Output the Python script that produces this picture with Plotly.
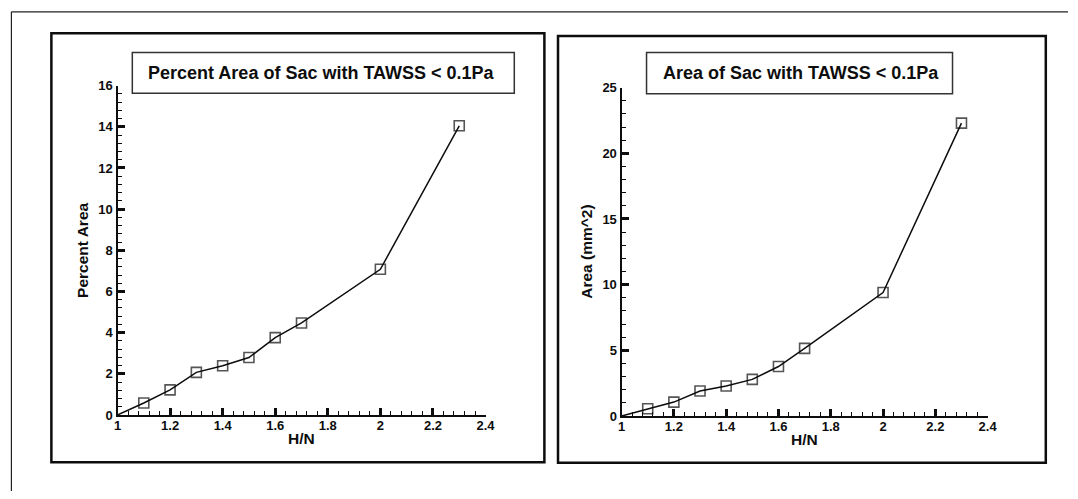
import plotly.graph_objects as go

W, H = 1078, 499

# H/N ratio (first entry is the curve origin, drawn without a marker)
hn = [1.0, 1.1, 1.2, 1.3, 1.4, 1.5, 1.6, 1.7, 2.0, 2.3]
percent_area = [0.0, 0.58, 1.22, 2.07, 2.39, 2.79, 3.76, 4.47, 7.08, 14.05]
area_mm2 = [0.0, 0.55, 1.06, 1.90, 2.29, 2.79, 3.77, 5.15, 9.40, 22.3]

title_left = "Percent Area of Sac with TAWSS < 0.1Pa"
title_right = "Area of Sac with TAWSS < 0.1Pa"
ylabel_left = "Percent Area"
ylabel_right = "Area (mm^2)"
xlabel = "H/N"

FONT = "Liberation Sans, Arial, sans-serif"
INK = "#0d0d0d"


def px(x):
    return x / W


def py(y):
    return 1 - y / H


# plot-area pixel boxes: (left, right, top, bottom)
left_area = (115, 488, 81, 420.6)
right_area = (625.7, 996.7, 83, 421.7)

marker_sizes = [0] + [10] * (len(hn) - 1)

fig = go.Figure()
for y, xa, ya in [(percent_area, "x", "y"), (area_mm2, "x2", "y2")]:
    fig.add_trace(go.Scatter(
        x=hn, y=y, xaxis=xa, yaxis=ya, mode="lines+markers",
        line=dict(color=INK, width=1.5),
        marker=dict(symbol="square-open", size=marker_sizes,
                    color=INK, line=dict(color=INK, width=1.6)),
        showlegend=False, hoverinfo="x+y",
    ))

tick_font = dict(family=FONT, size=13, color=INK, weight="bold")


def xaxis_cfg(area, anchor):
    return dict(
        domain=[px(area[0]), px(area[1])], range=[1.0, 2.4005],
        tickmode="linear", tick0=1.0, dtick=0.2,
        ticks="inside", ticklen=7, tickwidth=2.5, tickcolor=INK,
        minor=dict(tickmode="linear", tick0=1.0, dtick=0.04, ticks="inside",
                   ticklen=4, tickwidth=1.4, tickcolor=INK, showgrid=False),
        showline=True, linecolor=INK, linewidth=2.2, anchor=anchor,
        showgrid=False, zeroline=False, ticklabelstandoff=-3,
        tickfont=tick_font,
    )


def yaxis_cfg(area, top, major, minor_step, anchor):
    return dict(
        domain=[py(area[3]), py(area[2])], range=[0, top * 1.0003],
        tickmode="linear", tick0=0, dtick=major,
        ticks="inside", ticklen=7, tickwidth=2.5, tickcolor=INK,
        minor=dict(tickmode="linear", tick0=0, dtick=minor_step, ticks="inside",
                   ticklen=4, tickwidth=1.4, tickcolor=INK, showgrid=False),
        showline=True, linecolor=INK, linewidth=2.2, anchor=anchor,
        showgrid=False, zeroline=False, ticklabelstandoff=0,
        tickfont=tick_font,
    )


fig.update_layout(
    width=W, height=H, margin=dict(l=0, r=0, t=0, b=0),
    paper_bgcolor="white", plot_bgcolor="white",
    xaxis=xaxis_cfg(left_area, "y"),
    yaxis=yaxis_cfg(left_area, 16, 2, 0.4, "x"),
    xaxis2=xaxis_cfg(right_area, "y2"),
    yaxis2=yaxis_cfg(right_area, 25, 5, 1, "x2"),
)

shapes = []
# outer frame (top and left edges)
shapes.append(dict(type="line", xref="paper", yref="paper",
                   x0=px(7.5), x1=1.0, y0=py(5), y1=py(5),
                   line=dict(color="#222", width=1.2)))
shapes.append(dict(type="line", xref="paper", yref="paper",
                   x0=px(7.5), x1=px(7.5), y0=py(5), y1=0,
                   line=dict(color="#222", width=1.2)))
# panel frames
for x0, x1, y0, y1 in [(48, 547.5, 27, 469.3), (561.3, 1055.5, 30, 470)]:
    shapes.append(dict(type="rect", xref="paper", yref="paper",
                       x0=px(x0), x1=px(x1), y0=py(y1), y1=py(y0),
                       line=dict(color=INK, width=2.5)))
# title boxes
for x0, x1, y0, y1 in [(130, 517, 47, 89), (651, 961, 47, 89.5)]:
    shapes.append(dict(type="rect", xref="paper", yref="paper",
                       x0=px(x0), x1=px(x1), y0=py(y1), y1=py(y0),
                       line=dict(color="#333", width=1.5),
                       fillcolor="white"))
fig.update_layout(shapes=shapes)

ann = []
title_font = dict(family=FONT, size=18, color=INK, weight="bold")
label_font = dict(family=FONT, size=15.5, color=INK, weight="bold")
ann.append(dict(text=title_left, x=px(322), y=py(68), xref="paper", yref="paper",
                showarrow=False, font=title_font, xanchor="center", yanchor="middle"))
ann.append(dict(text=title_right, x=px(807.5), y=py(68), xref="paper", yref="paper",
                showarrow=False, font=title_font, xanchor="center", yanchor="middle"))
ann.append(dict(text=xlabel, x=px(301.5), y=py(445), xref="paper", yref="paper",
                showarrow=False, font=label_font, xanchor="center", yanchor="middle"))
ann.append(dict(text=xlabel, x=px(811), y=py(446), xref="paper", yref="paper",
                showarrow=False, font=label_font, xanchor="center", yanchor="middle"))
ann.append(dict(text=ylabel_left, x=px(79.5), y=py(251), xref="paper", yref="paper",
                showarrow=False, font=label_font, textangle=-90,
                xanchor="center", yanchor="middle"))
ann.append(dict(text=ylabel_right, x=px(590), y=py(252), xref="paper", yref="paper",
                showarrow=False, font=label_font, textangle=-90,
                xanchor="center", yanchor="middle"))
fig.update_layout(annotations=ann)

fig.write_html("out.html")
